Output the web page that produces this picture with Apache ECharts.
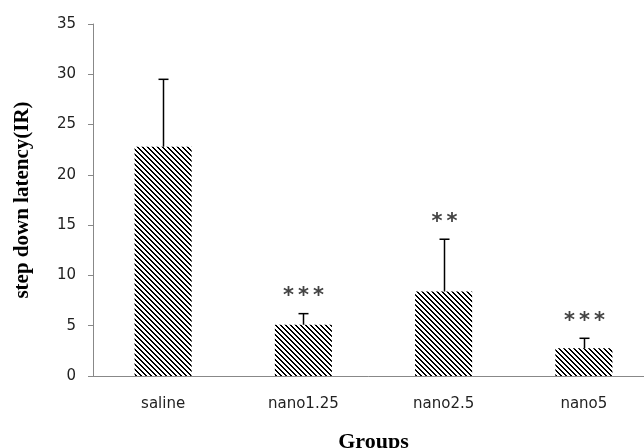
<!DOCTYPE html>
<html><head><meta charset="utf-8">
<script src="https://cdn.jsdelivr.net/npm/echarts@6/dist/echarts.min.js"></script>
<style>html,body{margin:0;padding:0;background:#fff;overflow:hidden}#c{width:644px;height:448px}</style>
</head><body><div id="c"></div>
<script>
var categories = ['saline', 'nano1.25', 'nano2.5', 'nano5'];
var means = [22.8, 5.1, 8.4, 2.75];
var errors = [6.7, 1.1, 5.2, 1.0];
var stars = ['', '***', '**', '***'];
var yTicks = [0, 5, 10, 15, 20, 25, 30, 35];

// hatch pattern tile
var N = 5;
var tile = document.createElement('canvas');
tile.width = N; tile.height = N;
var tctx = tile.getContext('2d');
var img = tctx.createImageData(N, N);
for (var y = 0; y < N; y++) {
  for (var x = 0; x < N; x++) {
    var k = ((x - y) % N + N) % N;
    var on = k < 2;
    var i = (y * N + x) * 4;
    var v = on ? 0 : 255;
    img.data[i] = v; img.data[i+1] = v; img.data[i+2] = v; img.data[i+3] = 255;
  }
}
tctx.putImageData(img, 0, 0);

var chart = echarts.init(document.getElementById('c'), null, {renderer: 'canvas'});
var errData = categories.map(function (c, i) { return [i, means[i], means[i] + errors[i], stars[i]]; });

chart.setOption({
  animation: false,
  backgroundColor: '#fff',
  grid: {left: 93, top: 24, width: 561, height: 352, containLabel: false, outerBoundsMode: 'none'},
  xAxis: {
    type: 'category',
    data: categories,
    name: 'Groups',
    nameLocation: 'middle',
    nameGap: 55,
    nameTextStyle: {fontFamily: 'Liberation Serif', fontWeight: 'bold', fontSize: 22, color: '#000'},
    axisLine: {lineStyle: {color: '#888', width: 1}},
    axisTick: {show: false},
    axisLabel: {fontFamily: 'DejaVu Sans', fontSize: 15, color: '#222', margin: 21}
  },
  yAxis: {
    type: 'value',
    min: 0, max: 35, interval: 5,
    name: 'step down latency(IR)',
    nameLocation: 'middle',
    nameGap: 60,
    nameTextStyle: {fontFamily: 'Liberation Serif', fontWeight: 'bold', fontSize: 21, color: '#000'},
    axisLine: {show: true, lineStyle: {color: '#888', width: 1}},
    axisTick: {show: true, length: 5, lineStyle: {color: '#888'}},
    splitLine: {show: false},
    axisLabel: {fontFamily: 'DejaVu Sans', fontSize: 15, color: '#222', margin: 17,
      formatter: function (v) { return yTicks.indexOf(v) >= 0 ? String(v) : ''; }}
  },
  series: [{
    type: 'bar',
    data: means,
    barWidth: 57,
    itemStyle: {color: {image: tile, repeat: 'repeat'}}
  }, {
    type: 'custom',
    data: errData,
    z: 10,
    renderItem: function (params, api) {
      var base = api.coord([api.value(0), api.value(1)]);
      var top = api.coord([api.value(0), api.value(2)]);
      var x = Math.round(base[0]) + 0.5;
      var children = [
        {type: 'line', shape: {x1: x, y1: base[1], x2: x, y2: top[1]}, style: {stroke: '#000', lineWidth: 1.5}},
        {type: 'line', shape: {x1: x - 5, y1: top[1], x2: x + 5, y2: top[1]}, style: {stroke: '#000', lineWidth: 1.5}}
      ];
      var s = String(api.value(3) || '');
      var n = s.length;
      for (var j = 0; j < n; j++) {
        children.push({type: 'text', style: {x: x + (j - (n - 1) / 2) * 15, y: top[1] - 17, text: '*', textAlign: 'center', textVerticalAlign: 'middle',
          font: 'bold 21px DejaVu Sans', fill: '#444'}});
      }
      return {type: 'group', children: children};
    }
  }]
});
</script></body></html>
